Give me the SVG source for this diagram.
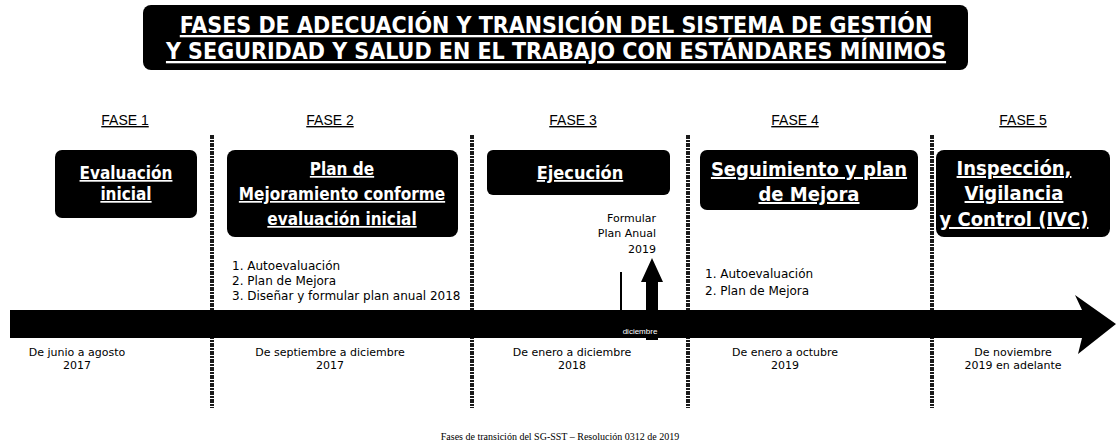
<svg xmlns="http://www.w3.org/2000/svg" width="1116" height="447" viewBox="0 0 1116 447">
<style>
.box{fill:#000}
.bt{font-family:"DejaVu Sans Condensed","Liberation Sans",sans-serif;font-weight:bold;font-size:17px;fill:#fff;text-anchor:middle;text-decoration:underline}
.fase{font-family:"Liberation Sans",sans-serif;font-size:14px;fill:#000;text-anchor:middle;text-decoration:underline}
.t{font-family:"DejaVu Sans",sans-serif;font-size:12px;fill:#000}
.d{font-family:"DejaVu Sans",sans-serif;font-size:11px;fill:#000;text-anchor:middle}
.div{stroke:#1a1a1a;stroke-width:4;stroke-dasharray:4 1 2 1}
.title{font-family:"DejaVu Sans Condensed","Liberation Sans",sans-serif;font-weight:bold;font-size:23px;fill:#fff;text-anchor:middle;text-decoration:underline}
</style>
<rect width="1116" height="447" fill="#fff"/>
<g id="title">
<rect x="143" y="5" width="825" height="65" rx="8" fill="#000"/>
<text class="title" x="556" y="33">FASES DE ADECUACIÓN Y TRANSICIÓN DEL SISTEMA DE GESTIÓN</text>
<text class="title" x="556" y="59">Y SEGURIDAD Y SALUD EN EL TRABAJO CON ESTÁNDARES MÍNIMOS</text>
</g>
<g id="dividers">
<line class="div" x1="212" y1="135" x2="212" y2="408"/>
<line class="div" x1="472" y1="135" x2="472" y2="408"/>
<line class="div" x1="688" y1="135" x2="688" y2="408"/>
<line class="div" x1="932" y1="135" x2="932" y2="408"/>
</g>
<g id="timeline">
<polygon points="10,310 1082,310 1075,295 1116,324 1078,354 1082,338 10,338" fill="#000"/>
</g>
<g id="fase1">
<text class="fase" x="125" y="125">FASE 1</text>
<rect class="box" x="55" y="150" width="142" height="68" rx="7"/>
<text class="bt" x="126" y="179">Evaluación</text>
<text class="bt" x="126" y="200">inicial</text>
<text class="d" x="77" y="356">De junio a agosto</text>
<text class="d" x="77" y="369">2017</text>
</g>
<g id="fase2">
<text class="fase" x="330" y="125">FASE 2</text>
<rect class="box" x="227" y="150" width="231" height="87" rx="8"/>
<text class="bt" x="342" y="175">Plan de</text>
<text class="bt" x="342" y="200">Mejoramiento conforme</text>
<text class="bt" x="342" y="225">evaluación inicial</text>
<text class="t" x="232" y="270">1. Autoevaluación</text>
<text class="t" x="232" y="285">2. Plan de Mejora</text>
<text class="t" x="232" y="300">3. Diseñar y formular plan anual 2018</text>
<text class="d" x="330" y="356">De septiembre a diciembre</text>
<text class="d" x="330" y="369">2017</text>
</g>
<g id="fase3">
<text class="fase" x="573" y="125">FASE 3</text>
<rect class="box" x="487" y="150" width="183" height="45" rx="6"/>
<text class="bt" x="580" y="179" style="font-size:18px">Ejecución</text>
<text class="d" x="656" y="222" style="text-anchor:end">Formular</text>
<text class="d" x="656" y="237" style="text-anchor:end">Plan Anual</text>
<text class="d" x="656" y="253" style="text-anchor:end">2019</text>
<line x1="621" y1="272" x2="621" y2="338" stroke="#000" stroke-width="2"/>
<polygon points="646,340 646,282 641,282 652,258 663,282 658,282 658,340" fill="#000"/>
<text x="640" y="334" font-family="Liberation Sans, sans-serif" font-size="8" fill="#fff" text-anchor="middle">diciembre</text>
<text class="d" x="572" y="356">De enero a diciembre</text>
<text class="d" x="572" y="369">2018</text>
</g>
<g id="fase4">
<text class="fase" x="795" y="125">FASE 4</text>
<rect class="box" x="700" y="150" width="218" height="60" rx="7"/>
<text class="bt" x="809" y="176" style="font-size:20px">Seguimiento y plan</text>
<text class="bt" x="809" y="201" style="font-size:20px">de Mejora</text>
<text class="t" x="705" y="278">1. Autoevaluación</text>
<text class="t" x="705" y="295">2. Plan de Mejora</text>
<text class="d" x="785" y="356">De enero a octubre</text>
<text class="d" x="785" y="369">2019</text>
</g>
<g id="fase5">
<text class="fase" x="1023" y="125">FASE 5</text>
<rect class="box" x="936" y="150" width="174" height="87" rx="8"/>
<text class="bt" x="1014" y="175" style="font-size:20px">Inspección,</text>
<text class="bt" x="1014" y="200" style="font-size:20px">Vigilancia</text>
<text class="bt" x="1014" y="226" style="font-size:20px">y Control (IVC)</text>
<text class="d" x="1013" y="356">De noviembre</text>
<text class="d" x="1013" y="369">2019 en adelante</text>
</g>
<text x="560" y="440" font-family="Liberation Serif, serif" font-size="10" fill="#000" text-anchor="middle">Fases de transición del SG-SST – Resolución 0312 de 2019</text>
</svg>
